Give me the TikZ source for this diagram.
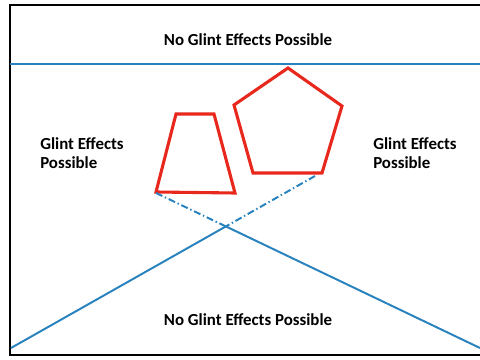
\documentclass[tikz,border=0pt]{standalone}
\usepackage{fontspec}
\setmainfont{Carlito}
\definecolor{rayblue}{RGB}{40,130,190}
\definecolor{panelred}{RGB}{232,40,28}

\begin{document}
\begin{tikzpicture}[font=\fontsize{12}{14}\selectfont\bfseries,
  zonelabel/.style={align=left, inner sep=0pt},
  frameline/.style={line width=2pt, black},
  ray/.style={line width=1.4pt, rayblue},
  panel/.style={line width=2.2pt, panelred, line join=miter}]
\useasboundingbox (0,0) rectangle (12,9);

% ---- frame (open on the right) ----
\draw[frameline] (12.2,8.875) -- (0.25,8.875) -- (0.25,0.125) -- (12.2,0.125);
\draw[ray, line width=1.2pt] (0.25,7.4) -- (12,7.4);

% ---- zone labels ----
\node (top) at (6.2,8.0) {No Glint Effects Possible};
\node (bottom) at (6.2,1.0) {No Glint Effects Possible};
\node[zonelabel, anchor=west] (left) at (1.0,5.175) {Glint Effects\\Possible};
\node[zonelabel, anchor=west] (right) at (9.325,5.175) {Glint Effects\\Possible};

% ---- panels ----
% panel 1 - trapezoid
\draw[panel] (4.4,6.15) -- (5.35,6.15) -- (5.875,4.175) -- (3.9,4.2) -- cycle;
% panel 2 - pentagon
\draw[panel] (7.2,7.3) -- (8.55,6.35) -- (8.05,4.675) -- (6.325,4.675) -- (5.85,6.375) -- cycle;

% ---- rays ----
\coordinate (trapfoot) at (3.9,4.175);
\coordinate (pentfoot) at (7.875,4.6);
\coordinate (rightend) at (12,0.3);
\coordinate (leftend) at (0.275,0.3);
\coordinate (cross) at (intersection of trapfoot--rightend and pentfoot--leftend);
\draw[ray, dash pattern=on 5pt off 2pt on 1pt off 2pt] (trapfoot) -- (cross);
\draw[ray, dash pattern=on 5pt off 2pt on 1pt off 2pt] (pentfoot) -- (cross);
\draw[ray] (cross) -- (rightend);
\draw[ray] (cross) -- (leftend);
\end{tikzpicture}
\end{document}
